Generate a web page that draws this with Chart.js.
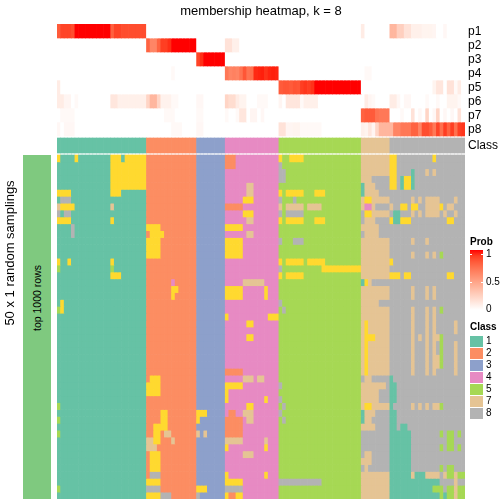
<!DOCTYPE html>
<html><head><meta charset="utf-8">
<script src="https://cdn.jsdelivr.net/npm/chart.js@4.4.0/dist/chart.umd.min.js"></script>
<style>
body{margin:0;background:#fff;}
#wrap{position:relative;width:504px;height:504px;font-family:"Liberation Sans",Arial,Helvetica,sans-serif;color:#000;overflow:hidden;}
canvas{position:absolute;left:0;top:0;}
.t{position:absolute;white-space:nowrap;}
.rot{position:absolute;white-space:nowrap;text-align:center;transform:rotate(-90deg);transform-origin:50% 50%;}
</style></head><body>
<div id="wrap">
<canvas id="c" width="504" height="504"></canvas>
</div>
<script>
// ---------- DATA ----------
const CLASS_ROW = ["1111111111111111111111111","22222222222222","33333333","444444444444444","55555555555555555555555","77777777","888888888888888888888"].join("");
const PROB_LABELS = ["p1","p2","p3","p4","p5","p6","p7","p8"];
const LEGEND_CLASSES = ["1","2","3","4","5","7","8"];
const PROB_TICKS = ["1","0.5","0"];

const p1 = [[0.8,0.88,0.88,0.88,0.85,1,1,1,1,1,1,1,1,1,1,0.78,0.88,0.88,0.85,0.85,0.85,0.85,0.85,0.85,0.85],[0,0,0,0,0,0,0,0,0,0,0,0,0,0],[0,0,0,0,0,0,0,0],[0,0,0,0,0,0,0,0,0,0,0,0,0,0,0],[0,0,0,0,0,0,0,0,0,0,0,0,0,0,0,0,0,0,0,0,0,0,0],[0.1,0,0,0,0,0,0,0],[0.38,0.38,0.25,0.25,0.15,0.15,0.08,0.08,0.08,0.06,0.06,0.06,0.05,0,0,0.04,0,0,0,0,0]].flat();
const p2 = [[0,0,0,0,0,0,0,0,0,0,0,0,0,0,0,0,0,0,0,0,0,0,0,0,0],[0.77,0.62,0.62,0.77,0.9,0.9,0.94,1,1,1,1,1,1,1],[0,0,0,0,0,0,0,0],[0.15,0.15,0.08,0.08,0,0,0,0,0,0,0,0,0,0,0],[0,0,0,0,0,0,0,0,0,0,0,0,0,0,0,0,0,0,0,0,0,0,0],[0,0,0,0,0,0,0,0],[0,0,0,0,0,0,0,0,0,0,0,0,0,0,0,0,0,0,0,0,0]].flat();
const p3 = [[0,0,0,0,0,0,0,0,0,0,0,0,0,0,0,0,0,0,0,0,0,0,0,0,0],[0,0,0,0,0,0,0,0,0,0,0,0,0,0],[0.88,0.94,1,1,1,1,1,1],[0,0,0,0,0,0,0,0,0,0,0,0,0,0,0],[0,0,0,0,0,0,0,0,0,0,0,0,0,0,0,0,0,0,0,0,0,0,0],[0,0,0,0,0,0,0,0],[0,0,0,0,0,0,0,0,0,0,0,0,0,0,0,0,0,0,0,0,0]].flat();
const p4 = [[0,0,0,0,0,0,0,0,0,0,0,0,0,0,0,0,0,0,0,0,0,0,0,0,0],[0,0,0,0,0,0,0,0.03,0,0,0,0,0,0],[0,0,0,0,0,0,0,0],[0.68,0.62,0.64,0.62,0.7,0.82,0.7,0.72,0.95,0.96,0.97,0.93,0.96,0.97,0.96],[0,0,0,0,0,0,0,0,0,0,0,0,0,0,0,0,0,0,0,0,0,0,0],[0,0.03,0.03,0,0,0,0,0],[0,0,0,0,0,0,0,0,0,0,0,0,0,0,0,0,0,0,0,0,0]].flat();
const p5 = [[0.1,0,0,0,0,0,0,0,0,0,0,0,0,0,0,0,0,0,0,0,0,0,0,0,0],[0,0,0,0,0,0,0,0,0,0,0,0,0,0],[0,0,0,0,0,0,0,0],[0,0,0,0,0,0,0,0,0,0,0,0,0,0,0],[0.8,0.82,0.82,0.8,0.83,0.82,0.9,0.92,0.9,0.93,1,1,1,1,1,1,1,1,1,1,1,1,1],[0,0,0,0,0,0,0,0],[0,0,0,0,0,0,0,0,0,0,0,0,0.06,0.13,0.13,0,0.15,0.15,0.03,0.1,0]].flat();
const p6 = [[0.1,0.1,0.05,0.05,0,0.03,0,0,0,0,0,0,0,0,0,0.13,0.13,0.08,0.08,0.08,0.08,0.08,0.08,0.08,0.08],[0.22,0.38,0.38,0.22,0.07,0.07,0.07,0.03,0.03,0,0,0,0,0],[0.04,0.04,0,0,0,0,0,0],[0.22,0.18,0.18,0.1,0.06,0.06,0,0,0,0.03,0.03,0.03,0,0,0],[0.05,0,0.13,0.13,0.13,0.13,0.03,0.08,0.08,0.08,0.08,0,0,0,0,0,0,0,0,0,0,0,0],[0,0.1,0.05,0.03,0,0,0,0],[0.1,0.1,0.04,0,0.04,0.04,0,0,0,0,0.03,0,0,0.03,0,0,0.06,0.06,0.06,0.03,0]].flat();
const p7 = [[0,0.03,0.03,0.03,0.03,0,0,0,0,0,0,0,0,0,0,0,0,0,0,0,0,0,0,0,0],[0,0,0,0,0,0.03,0.03,0.03,0,0,0,0,0,0],[0.03,0.03,0,0,0,0,0,0],[0.03,0,0,0.03,0.13,0.13,0,0.05,0.05,0,0.04,0,0,0,0],[0,0,0,0,0,0,0,0,0,0,0,0,0,0,0,0,0,0,0,0,0,0,0],[0.77,0.8,0.8,0.8,0.7,0.68,0.68,0.68],[0,0,0,0.03,0,0,0.15,0,0.04,0,0.22,0,0.04,0.22,0,0.04,0,0.04,0,0.15,0]].flat();
const p8 = [[0.04,0,0.04,0.04,0.04,0,0,0,0,0,0,0,0,0,0,0,0,0,0,0,0,0,0,0,0],[0,0,0,0,0,0,0,0.03,0.03,0.03,0,0,0,0],[0.04,0.04,0,0,0,0,0,0],[0,0,0,0,0,0,0,0,0,0,0,0,0,0,0],[0.15,0.15,0.05,0.05,0.06,0.06,0.03,0.03,0.03,0.03,0.03,0.03,0,0,0,0,0,0,0,0,0,0,0],[0.08,0.06,0.13,0.05,0.22,0.38,0.38,0.38],[0.38,0.62,0.62,0.68,0.68,0.68,0.77,0.77,0.62,0.85,0.85,0.8,0.68,0.88,0.72,0.9,0.77,0.9,0.72,0.9,0.92]].flat();
const PROBS = [p1,p2,p3,p4,p5,p6,p7,p8];

// 50 random samplings: class label of every column (blocks: 25 | 14 | 8 | 15 | 23 | 8 | 21)
const SAMPLINGS = [
"6111161111111116661666666 22222222222222 33333333 222444444444444 65566665555555555555555 77777777 668888888888688888888",
"1111111111111116666666666 22222222222222 33333333 222444444444444 85555555555555555555555 77777777 668888888888888888888",
"1111111111111116666666666 22222222222222 33333333 444444444444444 88555555555555555555555 77777777 668888188878788888888",
"1111111111111116666666666 22222222222222 33333333 444444444444444 88555555555555555555555 77788888 668166188888888888888",
"1111111111111116666666666 22222222222222 33333333 444444774444444 55555555555555555555555 17778888 668166188888888888888",
"6666111111111116661111111 22222222222222 33333333 444444774444444 65666665556665555555555 17777888 888888888888888888888",
"1888111111111111111111111 22222222222222 33333333 444446664444444 85558555555555555555555 76677777 888888787877778888788",
"7666611111111117111111111 22222222222222 33333333 222224444444444 75777775777755555555555 74478888 788668668877776877888",
"8188111111111111111111111 22222222222222 33333333 444446664444444 85888885555555555555555 86677777 811888787877778788788",
"6666111111111116111111111 22222222222222 33333333 444444774444444 65666665556665555555555 87778888 611666888888888866888",
"1111811111111111111111111 66662222222222 33333333 666664444444444 55555555555555555555555 77777888 888888888888888888888",
"1111811111111111111111111 26666222222222 33333333 444444774444444 55555555555555555555555 87777888 888888888888888888888",
"1111111111111111111111111 66662222222222 33333333 666664444444444 85558885555555555555555 77777777 888888788878888888888",
"1111111111111111111111111 66662222222222 33333333 666664444444444 55555555555555555555555 77777777 888888888888888888888",
"1111111111111111111111111 66662222222222 33333333 666664444444444 55555555555555555555555 77777777 888888788878785888888",
"6116111111111116111111111 22222222222222 33333333 444444444444444 65666665666665555555555 77777777 688888888888888888888",
"5111111111111115111111111 22222222222222 33333333 444444444444444 85555555555566666666666 77777777 888888888888888888888",
"1111111111111116661111111 22222222222222 33333333 444444444444444 65666665555555555555555 77777777 666866888888888866888",
"1111111111111111111111111 22222224222222 33333333 444447777774444 55555555555555555555555 16788888 888888888888888888888",
"1111111111111111111111111 22222226622222 33333333 666664444446444 55555555555555555555555 77777777 888888788878788888888",
"1111111111111111111111111 22222226222222 33333333 666664444446444 55555555555555555555555 77777777 888888788878788888888",
"1611111111111111111111111 22222222222222 33333333 444444444444444 85555555555555555555555 77777888 888888888888888888888",
"5611111111111111111111111 22222222222222 33333333 444444444444444 58555555555555555555555 77777777 888888788878785888888",
"1111111111111111111111111 22222222222222 33333333 644444444444666 55555555555555555555555 77777777 888888788878788888888",
"1111111111111111111111111 22222222222222 33333333 444444664444444 55555555555555555555555 76777777 888888788878788888788",
"1111111111111111111111111 22222222222222 33333333 444444444444444 55555555555555555555555 76777777 888888788878788888788",
"1111111111111111111111111 22222222222222 33333333 444444664444444 55555555555555555555555 76667777 888888787878775888888",
"1111111111111111111111111 22222222222222 33333333 444444444444444 55555555555555555555555 76777777 888888788878785888788",
"1111111111111111111111111 22222222222222 33333333 444444444444444 55555555555555555555555 76777777 888888788878785888788",
"1111111111111111111111111 22222222222222 33333333 444444444444444 55555555555555555555555 76777777 888888788878775888788",
"1111111111111111111111111 22222222222222 33333333 444444444444444 55555555555555555555555 76777777 888888788878775888788",
"1111111111111111111111111 22222222222222 33333333 222224444444444 55555555555555555555555 76777777 888888788878788888788",
"1111111111111111111111111 26662222222222 33333333 444447774774444 55555555555555555555555 87788888 188888888888888888888",
"1111111111111111111111111 66662222222222 33333333 666664444444444 85555555555555555555555 77777778 118888888888888888888",
"1111111111111111111111111 66662222222222 33333333 644444444444444 55555555555555555555555 77777888 118888888888888888888",
"1111111111111111111111111 22222222222222 33333333 644444444446444 85555555555555555555555 77777888 118888888888888888888",
"5111111111111111111111111 22222222222222 33333333 444444664444444 58555555555555555555555 76677777 188888787878775888888",
"1111111111111111111111111 22226622222222 66633333 422447774444444 85555555555555555555555 17778888 118888888888888888888",
"5111111111111111111111111 22226622222222 63333333 222224774444444 58555555555555555555555 17788888 118888888888888888888",
"1111111111111111111111111 22666622222222 33333333 222224444444444 55555555555555555555555 77778888 118118888888888888888",
"5111111111111111111111111 22662772222222 73733333 222224444444444 55555555555555555555555 88888888 111111888888885855858",
"1111111111111111111111111 77662227222222 33333333 777774444447444 55555555555555555555555 88888888 111111888888888855888",
"1111111111111111111111111 77722222222222 33333333 644444444446444 55555555555555555555555 88888888 111111888888885855858",
"1111111111111111111111111 26662222222222 33333333 444447774444444 55555555555555555555555 87788888 111111888888888888888",
"1111111111111111111111111 26662222222222 33333333 444444444444444 55555555555555555555555 77788888 111111888888888888888",
"1111111111111111111111111 26662222222222 33333333 444444444444444 55555555555555555555555 87888888 111111888888885855888",
"1111111111111111111111111 28882222222222 33333333 644444444446444 55555555555555555555555 77777777 111111711177778755755",
"1111111111111111111111111 66662222222222 33333333 666664444444444 88888888888855555555555 77777777 111111111111118888788",
"5111111111111111111111111 88882222222222 66633333 888884444444444 55555555555555555555555 77777777 111111111111555855755",
"1111111111111111111111111 66668882222222 83333333 622664444444444 55555555555555555555555 77777777 111111111111115155755"
];

// ---------- STYLE ----------
const CLASS_COLORS = {"1":"#66C2A5","2":"#FC8D62","3":"#8DA0CB","4":"#E78AC3","5":"#A6D854","6":"#FFD92F","7":"#E5C494","8":"#B3B3B3"};
function lab2rgb(L,a,b){
  let y=(L+16)/116, x=a/500+y, z=y-b/200;
  const f=t=>{const t3=t*t*t;return t3>0.008856?t3:(t-16/116)/7.787;};
  x=0.95047*f(x); y=f(y); z=1.08883*f(z);
  const r=x*3.2406+y*-1.5372+z*-0.4986, g=x*-0.9689+y*1.8758+z*0.0415, bb=x*0.0557+y*-0.2040+z*1.0570;
  const gam=c=>{c=c>0.0031308?1.055*Math.pow(c,1/2.4)-0.055:12.92*c;return Math.round(Math.max(0,Math.min(1,c))*255);};
  return "rgb("+gam(r)+","+gam(g)+","+gam(bb)+")";
}
function probColor(v){return lab2rgb(100+(53.24-100)*v,80.09*v,67.20*v);}

const NCOL = CLASS_ROW.length;
const rows = SAMPLINGS.map(s=>s.replace(/ /g,""));
rows.forEach((r,i)=>{if(r.length!==NCOL)console.warn("row",i,r.length);});
PROBS.forEach((p,i)=>{if(p.length!==NCOL)console.warn("p",i,p.length);});

// layout in y-units (1 unit = 1px of chart area)
const P_H=14, GAP=2, CLASS_H=15, MAIN_H=344;
const CLASS_Y0 = P_H*8+GAP, MAIN_Y0 = CLASS_Y0+CLASS_H+GAP;
const ROW_H = MAIN_H/rows.length;

const labels = Array.from(CLASS_ROW,(_,i)=>"s"+(i+1));
const datasets = [];
PROBS.forEach((p,i)=>{
  datasets.push({label:PROB_LABELS[i],data:p.map(()=>[i*P_H,(i+1)*P_H]),backgroundColor:p.map(probColor)});
});
datasets.push({label:"Class",data:Array.from(CLASS_ROW,()=>[CLASS_Y0,CLASS_Y0+CLASS_H]),backgroundColor:Array.from(CLASS_ROW,c=>CLASS_COLORS[c])});
rows.forEach((r,i)=>{
  datasets.push({label:"sampling "+(i+1),data:Array.from(r,()=>[MAIN_Y0+i*ROW_H,MAIN_Y0+(i+1)*ROW_H]),backgroundColor:Array.from(r,c=>CLASS_COLORS[c])});
});

new Chart(document.getElementById("c"),{
  type:"bar",
  data:{labels,datasets},
  options:{
    responsive:false,animation:false,events:[],
    layout:{padding:{left:57,right:39,top:24,bottom:5}},
    datasets:{bar:{grouped:false,barPercentage:1,categoryPercentage:1,borderWidth:0}},
    plugins:{legend:{display:false},tooltip:{enabled:false},title:{display:false}},
    scales:{
      x:{type:"category",display:false},
      y:{type:"linear",display:false,min:0,max:MAIN_Y0+MAIN_H,reverse:true}
    }
  }
});

// ---------- TEXT & LEGENDS ----------
const wrap=document.getElementById("wrap");
function add(html,css,cls){const d=document.createElement("div");d.className=cls||"t";d.innerHTML=html;Object.assign(d.style,css);wrap.appendChild(d);return d;}
add("membership heatmap, k = 8",{left:"111px",width:"300px",textAlign:"center",top:"3px",fontSize:"13px",lineHeight:"16px"});
PROB_LABELS.forEach((l,i)=>add(l,{left:"468px",top:(24+i*P_H)+"px",fontSize:"12px",lineHeight:P_H+"px"}));
add("Class",{left:"468px",top:(24+CLASS_Y0)+"px",fontSize:"12px",lineHeight:CLASS_H+"px"});
// row annotation bar
add("",{left:"23px",top:(24+MAIN_Y0)+"px",width:"28px",height:MAIN_H+"px",background:"#7FC97F"});
add("top 1000 rows",{left:(37-60)+"px",top:(298-6)+"px",width:"120px",fontSize:"10.5px",lineHeight:"12px"},"rot");
add("50 x 1 random samplings",{left:(10-100)+"px",top:(253-8)+"px",width:"200px",fontSize:"13px",lineHeight:"16px"},"rot");
// Prob legend
add("Prob",{left:"470px",top:"236px",fontSize:"10px",fontWeight:"bold",lineHeight:"12px"});
const stops=[];for(let k=0;k<=10;k++){stops.push(probColor(1-k/10)+" "+(k*10)+"%");}
add("",{left:"470px",top:"250px",width:"13px",height:"60px",background:"linear-gradient(to bottom,"+stops.join(",")+")"});
[254,282].forEach(y=>{add("",{left:"470px",top:(y-0.5)+"px",width:"2px",height:"1px",background:"#fff"});add("",{left:"481px",top:(y-0.5)+"px",width:"2px",height:"1px",background:"#fff"});});
[[PROB_TICKS[0],254],[PROB_TICKS[1],282],[PROB_TICKS[2],309]].forEach(([t,y])=>add(t,{left:"486px",top:(y-6)+"px",fontSize:"10px",lineHeight:"12px"}));
// Class legend
add("Class",{left:"470px",top:"321px",fontSize:"10px",fontWeight:"bold",lineHeight:"12px"});
LEGEND_CLASSES.forEach((c,i)=>{
  const y=341+i*12;
  add("",{left:"470px",top:(y-5.5)+"px",width:"13px",height:"11px",background:CLASS_COLORS[c]});
  add(c,{left:"486px",top:(y-6)+"px",fontSize:"10px",lineHeight:"12px"});
});
</script>
</body></html>
